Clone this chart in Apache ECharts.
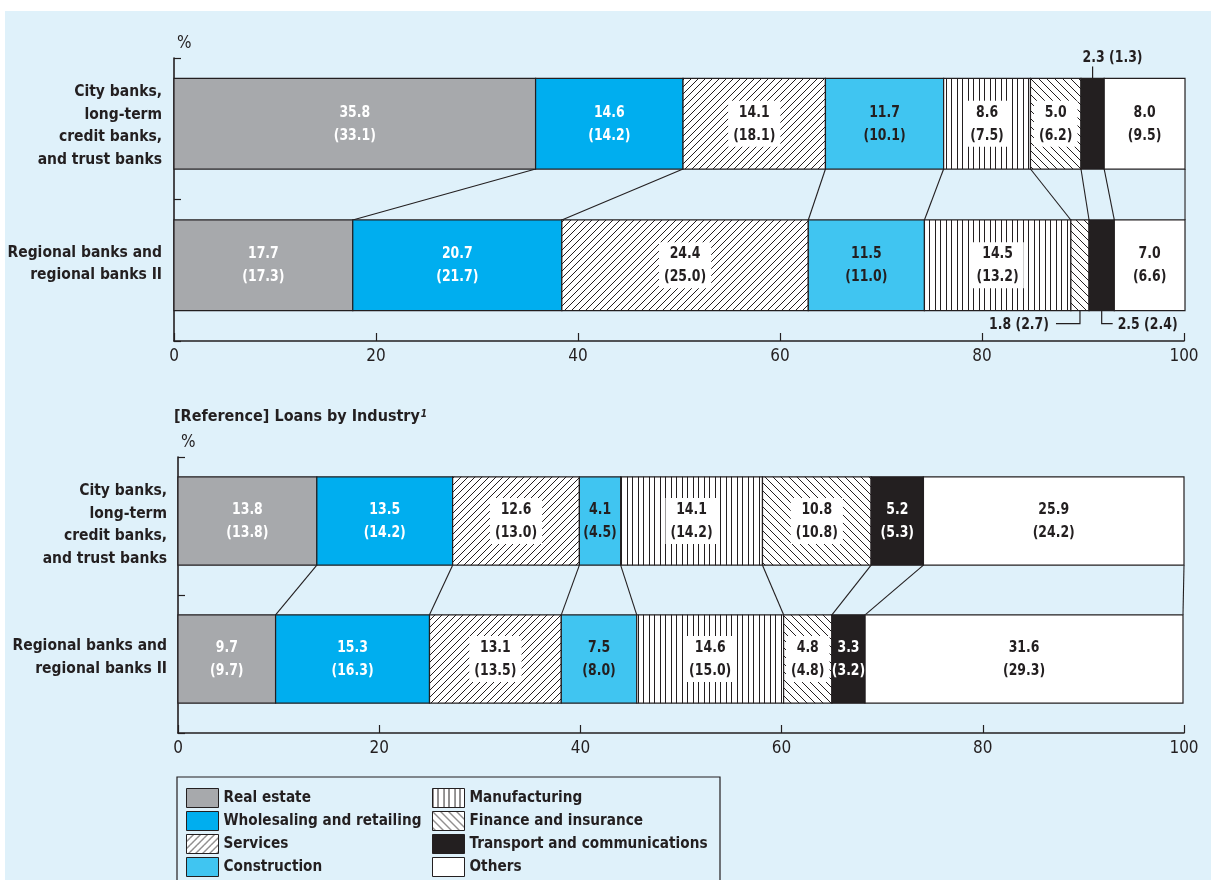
<!DOCTYPE html>
<html>
<head>
<meta charset="utf-8">
<script src="https://cdn.jsdelivr.net/npm/echarts@6/dist/echarts.min.js"></script>
<style>
  html, body { margin: 0; padding: 0; background: #ffffff; }
  #chart { width: 1211px; height: 880px; }
</style>
</head>
<body>
<div id="chart"></div>
<script>
// ---- data -------------------------------------------------------------
const industries = [
  'Real estate', 'Wholesaling and retailing', 'Services', 'Construction',
  'Manufacturing', 'Finance and insurance', 'Transport and communications', 'Others'
];
const bankGroups = [
  'City banks,\nlong-term\ncredit banks,\nand trust banks',
  'Regional banks and\nregional banks II'
];
const xTicks = [0, 20, 40, 60, 80, 100];

// Upper panel: shares (%), figures in parentheses from the previous period
const upperCity          = [35.8, 14.6, 14.1, 11.7, 8.6, 5.0, 2.3, 8.0];
const upperCityPrev      = [33.1, 14.2, 18.1, 10.1, 7.5, 6.2, 1.3, 9.5];
const upperRegional      = [17.7, 20.7, 24.4, 11.5, 14.5, 1.8, 2.5, 7.0];
const upperRegionalPrev  = [17.3, 21.7, 25.0, 11.0, 13.2, 2.7, 2.4, 6.6];

// Lower panel: [Reference] Loans by Industry
const loansCity          = [13.8, 13.5, 12.6, 4.1, 14.1, 10.8, 5.2, 25.9];
const loansCityPrev      = [13.8, 14.2, 13.0, 4.5, 14.2, 10.8, 5.3, 24.2];
const loansRegional      = [9.7, 15.3, 13.1, 7.5, 14.6, 4.8, 3.3, 31.6];
const loansRegionalPrev  = [9.7, 16.3, 13.5, 8.0, 15.0, 4.8, 3.2, 29.3];

// ---- styling ----------------------------------------------------------
const INK = '#231f20';
const PAGE_BLUE = '#dff1fa';
const FONT = "'DejaVu Sans Condensed', 'Liberation Sans Narrow', sans-serif";
const BAR_FRACTION = 0.64;   // bar thickness relative to the category band
const BAR_SHIFT = -5;        // bars sit slightly above the band centre
const LABEL_SQUEEZE = 0.84;  // horizontal squeeze of the in-bar figures

function hatch(kind) {
  const s = kind === 'vertical' ? 11 : (kind === 'forward' ? 7 : 8);
  const c = document.createElement('canvas');
  c.width = s; c.height = s;
  const g = c.getContext('2d');
  g.fillStyle = '#ffffff';
  g.fillRect(0, 0, s, s);
  g.strokeStyle = INK;
  g.lineWidth = 1;
  g.beginPath();
  if (kind === 'vertical') {
    g.moveTo(0.5, 0); g.lineTo(0.5, s);
    g.moveTo(5.5, 0); g.lineTo(5.5, s);
  } else if (kind === 'forward') {
    g.moveTo(-1, s + 1); g.lineTo(s + 1, -1);
    g.moveTo(-1, 1); g.lineTo(1, -1);
    g.moveTo(s - 1, s + 1); g.lineTo(s + 1, s - 1);
  } else {
    g.moveTo(-1, -1); g.lineTo(s + 1, s + 1);
    g.moveTo(s - 1, -1); g.lineTo(s + 1, 1);
    g.moveTo(-1, s - 1); g.lineTo(1, s + 1);
  }
  g.stroke();
  return { image: c, repeat: 'repeat' };
}

const fills = [
  '#a7a9ac', '#00aeef', hatch('forward'), '#40c5f1',
  hatch('vertical'), hatch('backward'), INK, '#ffffff'
];
const whiteText = [true, true, false, false, false, false, true, false];
const hatched   = [false, false, true, false, true, true, false, false];

// small segments whose figures sit outside the bar with a leader line
const callouts = [
  { panel: 0, row: 0, industry: 6, side: 'up' },
  { panel: 0, row: 1, industry: 5, side: 'left' },
  { panel: 0, row: 1, industry: 6, side: 'right' }
];

const panels = [
  { rows: [upperCity, upperRegional], prev: [upperCityPrev, upperRegionalPrev] },
  { rows: [loansCity, loansRegional], prev: [loansCityPrev, loansRegionalPrev] }
];

function cumulative(arr) {
  const out = [0];
  arr.forEach(v => out.push(Math.round((out[out.length - 1] + v) * 10) / 10));
  return out;
}

function barBox(api, xStart, xEnd, row) {
  const a = api.coord([xStart, row]);
  const b = api.coord([xEnd, row]);
  const band = api.size([0, 1])[1];
  const h = band * BAR_FRACTION;
  const top = a[1] - h / 2 + BAR_SHIFT;
  return { x0: a[0], x1: b[0], top: top, h: h };
}

const labelFont = { fontFamily: FONT, fontSize: 16.5, fontWeight: 'bold' };

function renderSegment(p, k) {
  return function (params, api) {
    const row = api.value(2);
    const val = api.value(3);
    const prv = api.value(4);
    const box = barBox(api, api.value(0), api.value(1), row);
    const cx = (box.x0 + box.x1) / 2;
    const cy = box.top + box.h / 2;
    const bottom = box.top + box.h;
    const children = [{
      type: 'rect',
      shape: { x: box.x0, y: box.top, width: box.x1 - box.x0, height: box.h },
      style: { fill: fills[k], stroke: INK, lineWidth: 1.2 }
    }];
    const co = callouts.find(c => c.panel === p && c.row === row && c.industry === k);
    if (!co) {
      const st = Object.assign({
        text: val.toFixed(1) + '\n(' + prv.toFixed(1) + ')',
        x: 0, y: 0, align: 'center', verticalAlign: 'middle',
        lineHeight: 23, fill: whiteText[k] ? '#ffffff' : INK
      }, labelFont);
      if (hatched[k]) { st.backgroundColor = '#ffffff'; st.padding = [0, 6]; }
      children.push({ type: 'text', x: cx, y: cy, scaleX: LABEL_SQUEEZE, z2: 10, style: st });
    } else {
      const text = val.toFixed(1) + ' (' + prv.toFixed(1) + ')';
      let pts, tx, ty, align;
      if (co.side === 'up') {
        pts = [[cx, box.top], [cx, box.top - 12]];
        tx = cx - 10; ty = box.top - 21; align = 'left';
      } else if (co.side === 'left') {
        pts = [[cx, bottom], [cx, bottom + 13], [cx - 24, bottom + 13]];
        tx = cx - 31; ty = bottom + 14; align = 'right';
      } else {
        pts = [[cx, bottom], [cx, bottom + 13], [cx + 11, bottom + 13]];
        tx = cx + 16; ty = bottom + 14; align = 'left';
      }
      children.push({ type: 'polyline', shape: { points: pts }, style: { fill: null, stroke: INK, lineWidth: 1.2 } });
      children.push({ type: 'text', x: tx, y: ty, scaleX: LABEL_SQUEEZE, z2: 10, style: Object.assign({
        text: text, x: 0, y: 0, align: align, verticalAlign: 'middle', fill: INK
      }, labelFont) });
    }
    return { type: 'group', children: children };
  };
}

function renderConnector(params, api) {
  const upper = barBox(api, api.value(0), api.value(0), 0);
  const lower = barBox(api, api.value(1), api.value(1), 1);
  return {
    type: 'line',
    shape: { x1: upper.x0, y1: upper.top + upper.h, x2: lower.x0, y2: lower.top },
    style: { stroke: INK, lineWidth: 1.1 }
  };
}

// category names: one rich line per text line plus a short spacer line,
// which lifts each block so it sits level with its raised bar
function groupLabel(value, index) {
  return value.split('\n').map(s => '{c|' + s + '}').join('\n') + '\n{g' + index + '| }';
}

// ---- axes & series ----------------------------------------------------
const grids = [
  { left: 174, right: 27, top: 58, height: 283, outerBoundsMode: 'none', containLabel: false },
  { left: 178, right: 27, top: 457, height: 276, outerBoundsMode: 'none', containLabel: false }
];

const xAxes = grids.map((g, i) => ({
  gridIndex: i, type: 'value', min: xTicks[0], max: xTicks[xTicks.length - 1],
  interval: xTicks[1] - xTicks[0],
  axisLine: { show: true, lineStyle: { color: INK, width: 1.6 } },
  axisTick: { show: true, inside: true, length: 8, lineStyle: { color: INK, width: 1.2 } },
  axisLabel: { color: INK, fontFamily: FONT, fontSize: 17, margin: 7 },
  splitLine: { show: false }
}));

const yAxes = grids.map((g, i) => ({
  gridIndex: i, type: 'category', data: bankGroups, inverse: true,
  name: '%', nameLocation: 'start', nameGap: 6,
  nameTextStyle: { color: INK, fontFamily: FONT, fontSize: 17, align: 'left', padding: [0, 0, 0, 3] },
  axisLine: { show: true, lineStyle: { color: INK, width: 1.6 } },
  axisTick: { show: true, inside: true, length: 7, lineStyle: { color: INK, width: 1.2 } },
  axisLabel: {
    margin: i === 0 ? 12 : 11,
    formatter: groupLabel,
    rich: {
      c: { color: INK, fontFamily: FONT, fontSize: 15.5, fontWeight: 'bold', lineHeight: 22.5 },
      g0: { fontSize: 1, lineHeight: i === 0 ? 6 : 2 },
      g1: { fontSize: 1, lineHeight: 13 }
    }
  }
}));

const series = [];
panels.forEach((panel, p) => {
  const cums = panel.rows.map(cumulative);
  industries.forEach((name, k) => {
    series.push({
      type: 'custom', name: name, xAxisIndex: p, yAxisIndex: p,
      itemStyle: { color: fills[k], borderColor: INK, borderWidth: 1 },
      encode: { x: [0, 1], y: 2 },
      data: panel.rows.map((vals, r) => [cums[r][k], cums[r][k + 1], r, vals[k], panel.prev[r][k]]),
      renderItem: renderSegment(p, k),
      z: 3
    });
  });
  const bounds = [];
  for (let i = 1; i <= industries.length; i++) bounds.push([cums[0][i], cums[1][i]]);
  series.push({
    type: 'custom', xAxisIndex: p, yAxisIndex: p, silent: true,
    encode: { x: [0, 1] }, data: bounds, renderItem: renderConnector, z: 2
  });
});

const legendText = { color: INK, fontFamily: FONT, fontSize: 15.2, fontWeight: 'bold' };
const legendBase = {
  orient: 'vertical', itemWidth: 32, itemHeight: 19, itemGap: 3, icon: 'rect',
  selectedMode: false, padding: 0, textStyle: legendText,
  itemStyle: { borderColor: INK, borderWidth: 1 }
};

const option = {
  backgroundColor: '#ffffff',
  animation: false,
  title: {
    text: '{t|[Reference] Loans by Industry}{s|1}',
    left: 174, top: 409, padding: 0,
    textStyle: {
      rich: {
        t: { color: INK, fontFamily: FONT, fontSize: 16, fontWeight: 'bold' },
        s: { color: INK, fontFamily: FONT, fontSize: 10, fontWeight: 'bold', fontStyle: 'italic', verticalAlign: 'top', padding: [0, 0, 0, 1] }
      }
    }
  },
  graphic: [
    { type: 'rect', z: -10, silent: true, shape: { x: 5, y: 11, width: 1206, height: 869 }, style: { fill: PAGE_BLUE } },
    { type: 'rect', z: -9, silent: true, shape: { x: 177, y: 777, width: 543, height: 120 }, style: { fill: null, stroke: INK, lineWidth: 1.2 } }
  ],
  legend: [
    Object.assign({ left: 186, top: 788, data: industries.slice(0, 4) }, legendBase),
    Object.assign({ left: 432, top: 788, data: industries.slice(4) }, legendBase)
  ],
  grid: grids,
  xAxis: xAxes,
  yAxis: yAxes,
  series: series
};

const chart = echarts.init(document.getElementById('chart'), null, { renderer: 'canvas' });
chart.setOption(option);
</script>
</body>
</html>
